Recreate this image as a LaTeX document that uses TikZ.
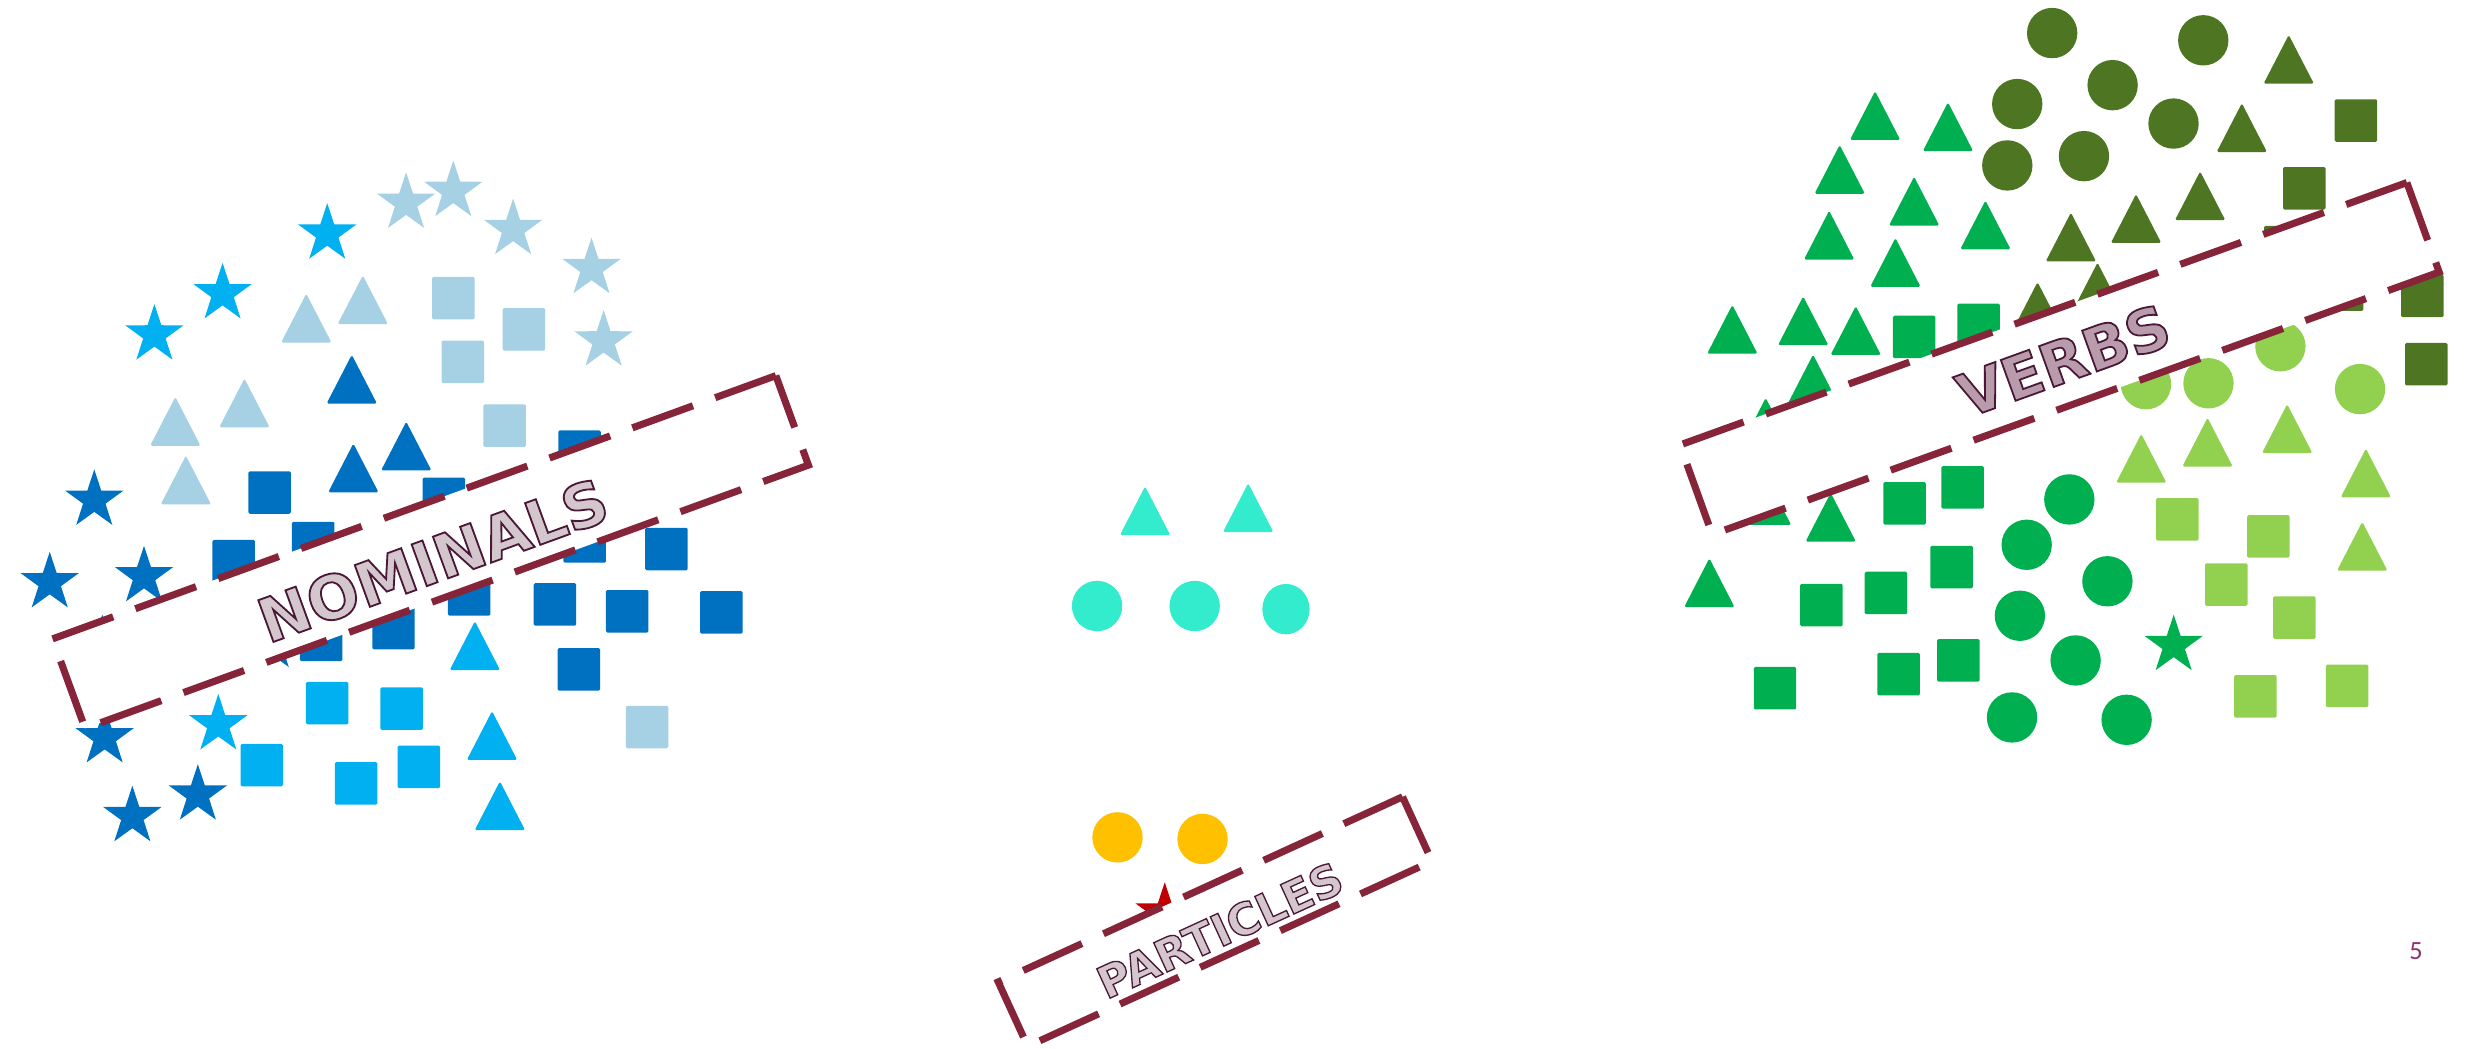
\documentclass[tikz,border=0pt]{standalone}
\usepackage{fontspec}
\usetikzlibrary{calc}

\newfontfamily\labelfont{DejaVu Sans}[UprightFeatures={FakeBold=3}, BoldFeatures={FakeBold=3}]
\newfontfamily\numfont{Carlito}
% glyph fill only, the stroke keeps the text colour
\newcommand\glyphfill[1]{\special{pdf:literal direct #1 rg}}

\definecolor{nomdark}{HTML}{0070C0}
\definecolor{nommid}{HTML}{00B0F0}
\definecolor{nomlight}{HTML}{A6D0E4}
\definecolor{verbdark}{HTML}{4E7622}
\definecolor{verbgreen}{HTML}{00B050}
\definecolor{verblight}{HTML}{92D050}
\definecolor{partcyan}{HTML}{33EBCD}
\definecolor{partyellow}{HTML}{FFC000}
\definecolor{partred}{HTML}{C00000}
\definecolor{boxline}{HTML}{862539}
\definecolor{textline}{HTML}{4A1737}
\definecolor{pagenum}{HTML}{8C3070}

\tikzset{
  pics/sq/.style={code={\fill[rounded corners=0.5pt] (-13.5,-13.5) rectangle (13.5,13.5);}},
  pics/tri/.style={code={\fill[rounded corners=0.6pt] (0,-15.5) -- (16,15.5) -- (-16,15.5) -- cycle;}},
  pics/dot/.style={code={\fill (0,0) circle (16);}},
  pics/starr/.style={code={\fill (-90:19.5) -- (-54:7.5) -- (-18:19.5) -- (18:7.5) -- (54:19.5)
      -- (90:7.5) -- (126:19.5) -- (162:7.5) -- (198:19.5) -- (234:7.5) -- cycle;}},
  catbox/.style={draw=boxline, line width=0.9mm, fill=white, inner sep=0pt,
      dash pattern=on 8.2mm off 3mm},
  catlabel/.style={inner sep=0pt, text=textline},
}

\begin{document}
\begin{tikzpicture}[x=0.2mm,y=-0.2mm]
\useasboundingbox (0,0) rectangle (1568,666);

% nominals
\foreach \x/\y in {258/129, 288/121.5, 326/145.7, 375.8/170.5, 383.5/216.5}
  \pic[nomlight] at (\x,\y) {starr};
\foreach \x/\y in {207.9/148.6, 141.4/186.5, 98.1/212.7, 138.7/460.4}
  \pic[nommid] at (\x,\y) {starr};
\foreach \x/\y in {59.9/317.7, 31.6/370.1, 91.5/366.3, 66.5/468.6, 84.1/518.7, 125.7/505, 65/410, 172/408}
  \pic[nomdark] at (\x,\y) {starr};
\foreach \x/\y in {194.6/202.1, 230.5/190.5, 111.4/267.7, 155.3/256, 118.1/305}
  \pic[nomlight] at (\x,\y) {tri};
\foreach \x/\y in {223.5/240.9, 224.5/297.3, 258.1/283.4}
  \pic[nomdark] at (\x,\y) {tri};
\foreach \x/\y in {301.7/410.2, 312.6/467.3, 317.6/511.9}
  \pic[nommid] at (\x,\y) {tri};
\foreach \x/\y in {288/189.4, 332.9/209.2, 294/229.9, 320.6/270.4, 411.1/461.9}
  \pic[nomlight] at (\x,\y) {sq};
\foreach \x/\y in {171.3/312.9, 368.2/287, 148.5/356.5, 282/317, 199/345, 423.4/348.8, 352.6/384,
    398.5/388.4, 458.3/389, 367.8/425.3, 250/399, 204/406.5, 298/377.6, 371.5/344}
  \pic[nomdark] at (\x,\y) {sq};
\foreach \x/\y in {207.9/446.7, 255.1/450.2, 166.3/486.1, 226.2/497.7, 266.1/487.2}
  \pic[nommid] at (\x,\y) {sq};

% particles
\foreach \x/\y in {727.5/324.5, 793/322.5}
  \pic[partcyan] at (\x,\y) {tri};
\foreach \x/\y in {697/385, 759/385}
  \pic[partcyan] at (\x,\y) {dot};
\fill[partcyan] (817,387) ellipse (15 and 16);
\foreach \x/\y in {710/532, 764/533}
  \pic[partyellow] at (\x,\y) {dot};
\pic[partred] at (740,580) {starr};

% verbs
\foreach \x/\y in {1303.8/21, 1399.8/25.6, 1342.2/54.1, 1281.6/66.1, 1380.9/78.5, 1275.3/105.1, 1324/99.2}
  \pic[verbdark] at (\x,\y) {dot};
\foreach \x/\y in {1454.1/37.7, 1424.3/81.1, 1397.8/124.4, 1357.1/138.8, 1315.7/150.6, 1332.6/182.4, 1294.5/194.7}
  \pic[verbdark] at (\x,\y) {tri};
\foreach \x/\y in {1496.8/76.6, 1464/119.6, 1539/188, 1541.5/231.4, 1452/157, 1488/184}
  \pic[verbdark] at (\x,\y) {sq};
\foreach \x/\y in {1191.3/73.4, 1237.6/80.5, 1168.8/107.6, 1216.1/127.8, 1261.4/142.9, 1162.1/149.4,
    1204.2/166.7, 1100.6/209.2, 1145.6/203.8, 1179/210, 1151.9/240.8, 1121.8/268.3, 1163.1/328.6,
    1086/370.2, 1122/318}
  \pic[verbgreen] at (\x,\y) {tri};
\foreach \x/\y in {1216.1/214.1, 1257.1/206.4, 1210.1/319.8, 1246.9/309.6, 1239.9/360.3, 1198.2/376.7,
    1157.2/384.4, 1206.2/428.3, 1244.2/419.6, 1127.7/437.2}
  \pic[verbgreen] at (\x,\y) {sq};
\foreach \x/\y in {1314.7/317.3, 1287.6/346.1, 1338.9/369.3, 1283.3/391.2, 1318.7/419.6, 1278.3/455.8, 1351.1/457.3}
  \pic[verbgreen] at (\x,\y) {dot};
\pic[verbgreen] at (1381,410) {starr};
\foreach \x/\y in {1363.4/244.1, 1403.1/243.5, 1448.8/220, 1499.4/247.2}
  \pic[verblight] at (\x,\y) {dot};
\foreach \x/\y in {1360.4/291.2, 1402.5/280.9, 1453.1/272.3, 1503.1/300.5, 1500.8/347}
  \pic[verblight] at (\x,\y) {tri};
\foreach \x/\y in {1383.3/330, 1441.2/340.8, 1414.4/371.4, 1457.7/392.4, 1432.9/442.5, 1491.2/435.7}
  \pic[verblight] at (\x,\y) {sq};

% category boxes
\node[catbox, minimum width=97.8mm, minimum height=12.1mm, rotate=20] (nombox) at (273.5,350.7) {};
\node[catbox, minimum width=98.2mm, minimum height=12.1mm, rotate=19.85] (verbbox) at (1308.5,227.8) {};
\node[catbox, minimum width=56.5mm, minimum height=9mm, rotate=24.6] (partbox) at (772,585.5) {};

\node[catlabel, rotate=20, font=\labelfont\bfseries\fontsize{22}{22}\selectfont] (nomlabel)
  at (275,356) {\glyphfill{0.827 0.776 0.8}NOMINALS};
\node[catlabel, rotate=19.85, font=\labelfont\bfseries\fontsize{21.5}{21.5}\selectfont] (verblabel)
  at (1311,229) {\glyphfill{0.722 0.612 0.675}VERBS};
\node[catlabel, rotate=24.6, font=\labelfont\bfseries\fontsize{16}{16}\selectfont] (partlabel)
  at (775,591) {\glyphfill{0.827 0.776 0.8}PARTICLES};

\node[text=pagenum, font=\numfont\fontsize{9.5}{10}\selectfont, inner sep=0pt] (pagenum) at (1535,604) {5};
\end{tikzpicture}
\end{document}
